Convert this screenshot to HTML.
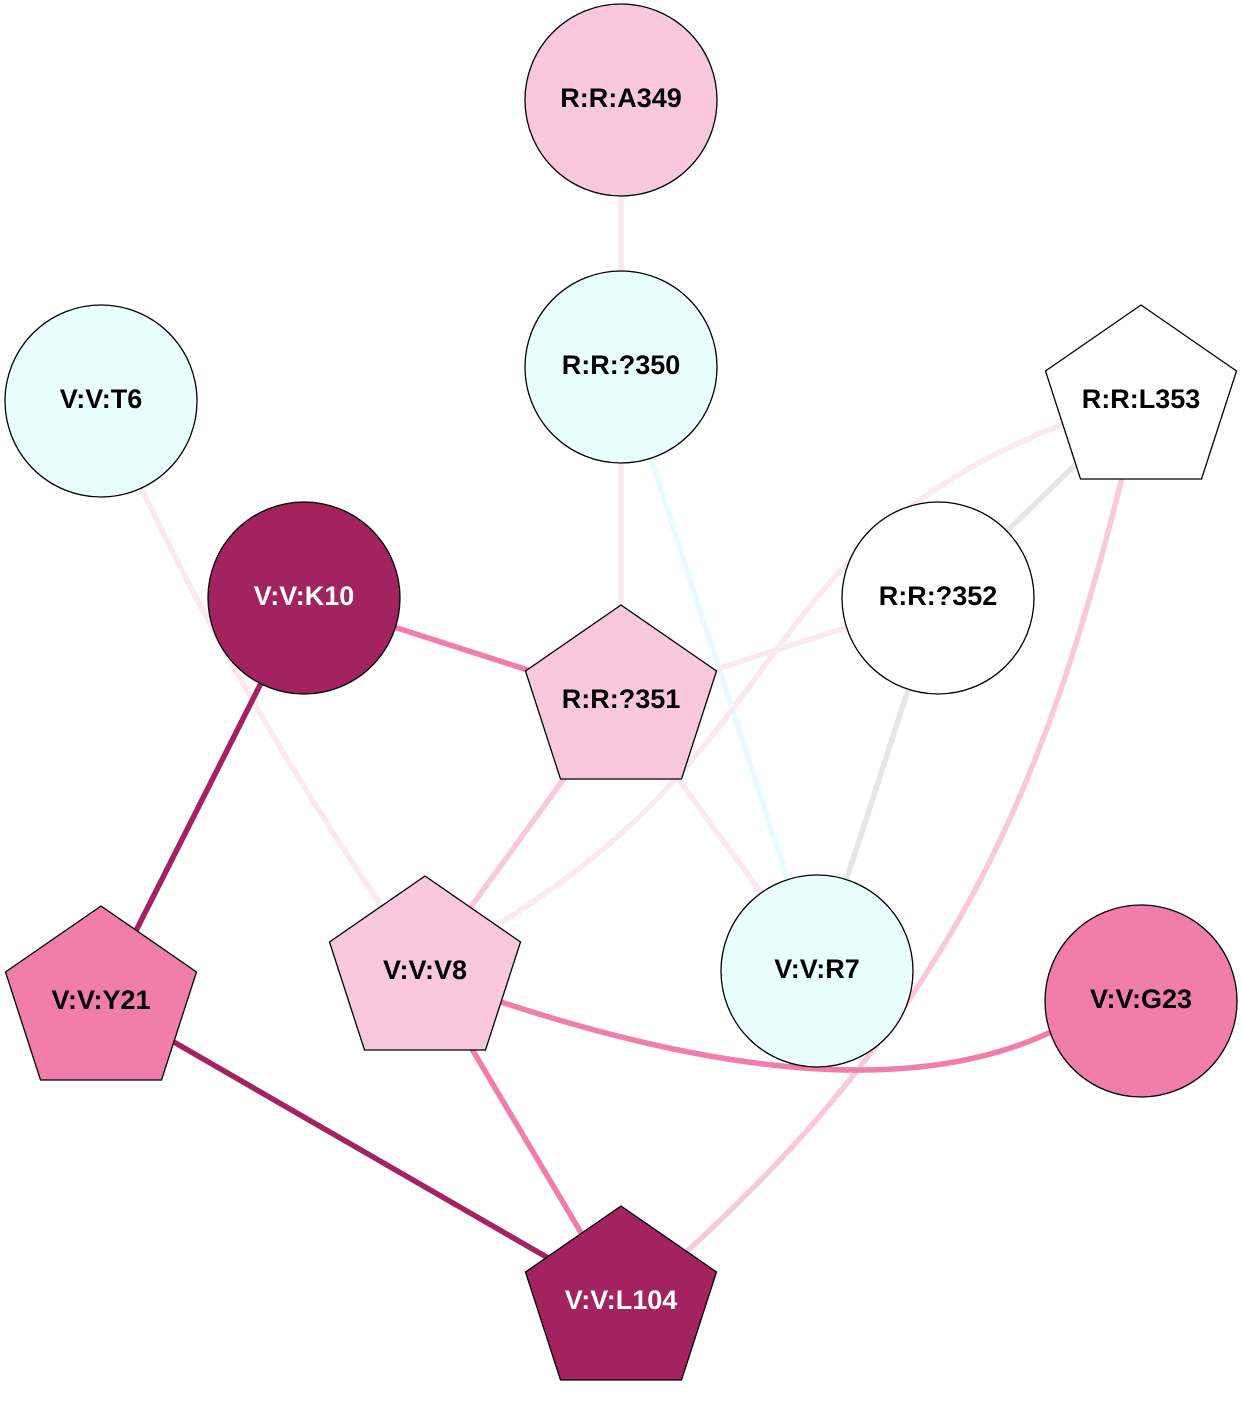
<!DOCTYPE html>
<html>
<head>
<meta charset="utf-8">
<style>
  html, body { margin: 0; padding: 0; background: #ffffff; }
  svg { display: block; }
  text { font-family: "Liberation Sans", Arial, sans-serif; font-weight: bold; font-size: 27px; text-anchor: middle; }
</style>
</head>
<body>
<svg width="1242" height="1403" viewBox="0 0 1242 1403" xmlns="http://www.w3.org/2000/svg">
  <rect width="1242" height="1403" fill="#ffffff"/>

  <!-- Edges -->
  <g fill="none" stroke-width="5.5" stroke-linecap="butt">
    <!-- A349 - ?350 -->
    <line x1="621" y1="100" x2="621" y2="367" stroke="#fbe9f1"/>
    <!-- ?350 - ?351 -->
    <line x1="621" y1="367" x2="621" y2="700" stroke="#fbe9f1"/>
    <!-- ?350 - R7 (cyan) -->
    <line x1="621" y1="367" x2="817" y2="970" stroke="#e6fdfd"/>
    <!-- T6 - V8 -->
    <path d="M139,483 Q239,696 384,910" stroke="#fbe9f1"/>
    <!-- L353 - V8 curve -->
    <path d="M1066,423 C746,547 800,740 500,923" stroke="#fbe9f1"/>
    <!-- ?351 - ?352 -->
    <line x1="621" y1="700" x2="938" y2="598" stroke="#fbe9f1"/>
    <!-- ?351 - R7 -->
    <line x1="621" y1="700" x2="817" y2="970" stroke="#fbe9f1"/>
    <!-- L353 - ?352 gray -->
    <line x1="1141" y1="401" x2="938" y2="598" stroke="#e6e6e6"/>
    <!-- ?352 - R7 gray -->
    <line x1="938" y1="598" x2="817" y2="970" stroke="#e6e6e6"/>
    <!-- ?351 - V8 light pink -->
    <line x1="621" y1="700" x2="425" y2="970" stroke="#f9c8dd"/>
    <!-- L353 - L104 light pink curve -->
    <path d="M1124,470 C1051,763 965,1000 684,1254" stroke="#f9c8dd"/>
    <!-- K10 - ?351 mid pink -->
    <line x1="304" y1="598" x2="621" y2="700" stroke="#f07daa"/>
    <!-- V8 - G23 mid pink curve -->
    <path d="M495,1000 Q865,1123 1055,1030" stroke="#f07daa"/>
    <!-- V8 - L104 mid pink -->
    <line x1="425" y1="970" x2="621" y2="1300" stroke="#f07daa"/>
    <!-- K10 - Y21 dark -->
    <line x1="304" y1="598" x2="101" y2="1000" stroke="#a2235f"/>
    <!-- Y21 - L104 dark -->
    <line x1="101" y1="1000" x2="621" y2="1300" stroke="#a2235f"/>
  </g>

  <!-- Nodes -->
  <g stroke="#000000" stroke-width="1.3">
    <!-- R:R:A349 -->
    <circle cx="621" cy="100" r="96" fill="#f9c8dd"/>
    <!-- R:R:?350 -->
    <circle cx="621" cy="367" r="96" fill="#e9fefe"/>
    <!-- V:V:T6 -->
    <circle cx="101" cy="401" r="96" fill="#e9fefe"/>
    <!-- R:R:L353 pentagon -->
    <polygon points="1141,305 1236.5,371 1201.5,479 1080.5,479 1045.5,371" fill="#ffffff"/>
    <!-- V:V:K10 -->
    <circle cx="304" cy="598" r="96" fill="#a2235f"/>
    <!-- R:R:?352 -->
    <circle cx="938" cy="598" r="96" fill="#ffffff"/>
    <!-- R:R:?351 pentagon -->
    <polygon points="621,605 716.5,671 681.5,779 560.5,779 525.5,671" fill="#f9c8dd"/>
    <!-- V:V:V8 pentagon -->
    <polygon points="425,876 520.5,942 485.5,1050 364.5,1050 329.5,942" fill="#f9c8dd"/>
    <!-- V:V:R7 -->
    <circle cx="817" cy="971" r="96" fill="#e9fefe"/>
    <!-- V:V:Y21 pentagon -->
    <polygon points="101,906 196.5,972 161.5,1080 40.5,1080 5.5,972" fill="#f07daa"/>
    <!-- V:V:G23 -->
    <circle cx="1141" cy="1001" r="96" fill="#f07daa"/>
    <!-- V:V:L104 pentagon -->
    <polygon points="621,1206 716.5,1272 681.5,1380 560.5,1380 525.5,1272" fill="#a2235f"/>
  </g>

  <!-- Labels -->
  <g>
    <text x="621" y="107" fill="#000000">R:R:A349</text>
    <text x="621" y="374" fill="#000000">R:R:?350</text>
    <text x="101" y="408" fill="#000000">V:V:T6</text>
    <text x="1141" y="408" fill="#000000">R:R:L353</text>
    <text x="304" y="605" fill="#ffffff">V:V:K10</text>
    <text x="938" y="605" fill="#000000">R:R:?352</text>
    <text x="621" y="708" fill="#000000">R:R:?351</text>
    <text x="425" y="979" fill="#000000">V:V:V8</text>
    <text x="817" y="978" fill="#000000">V:V:R7</text>
    <text x="101" y="1009" fill="#000000">V:V:Y21</text>
    <text x="1141" y="1008" fill="#000000">V:V:G23</text>
    <text x="621" y="1309" fill="#ffffff">V:V:L104</text>
  </g>
</svg>
</body>
</html>
